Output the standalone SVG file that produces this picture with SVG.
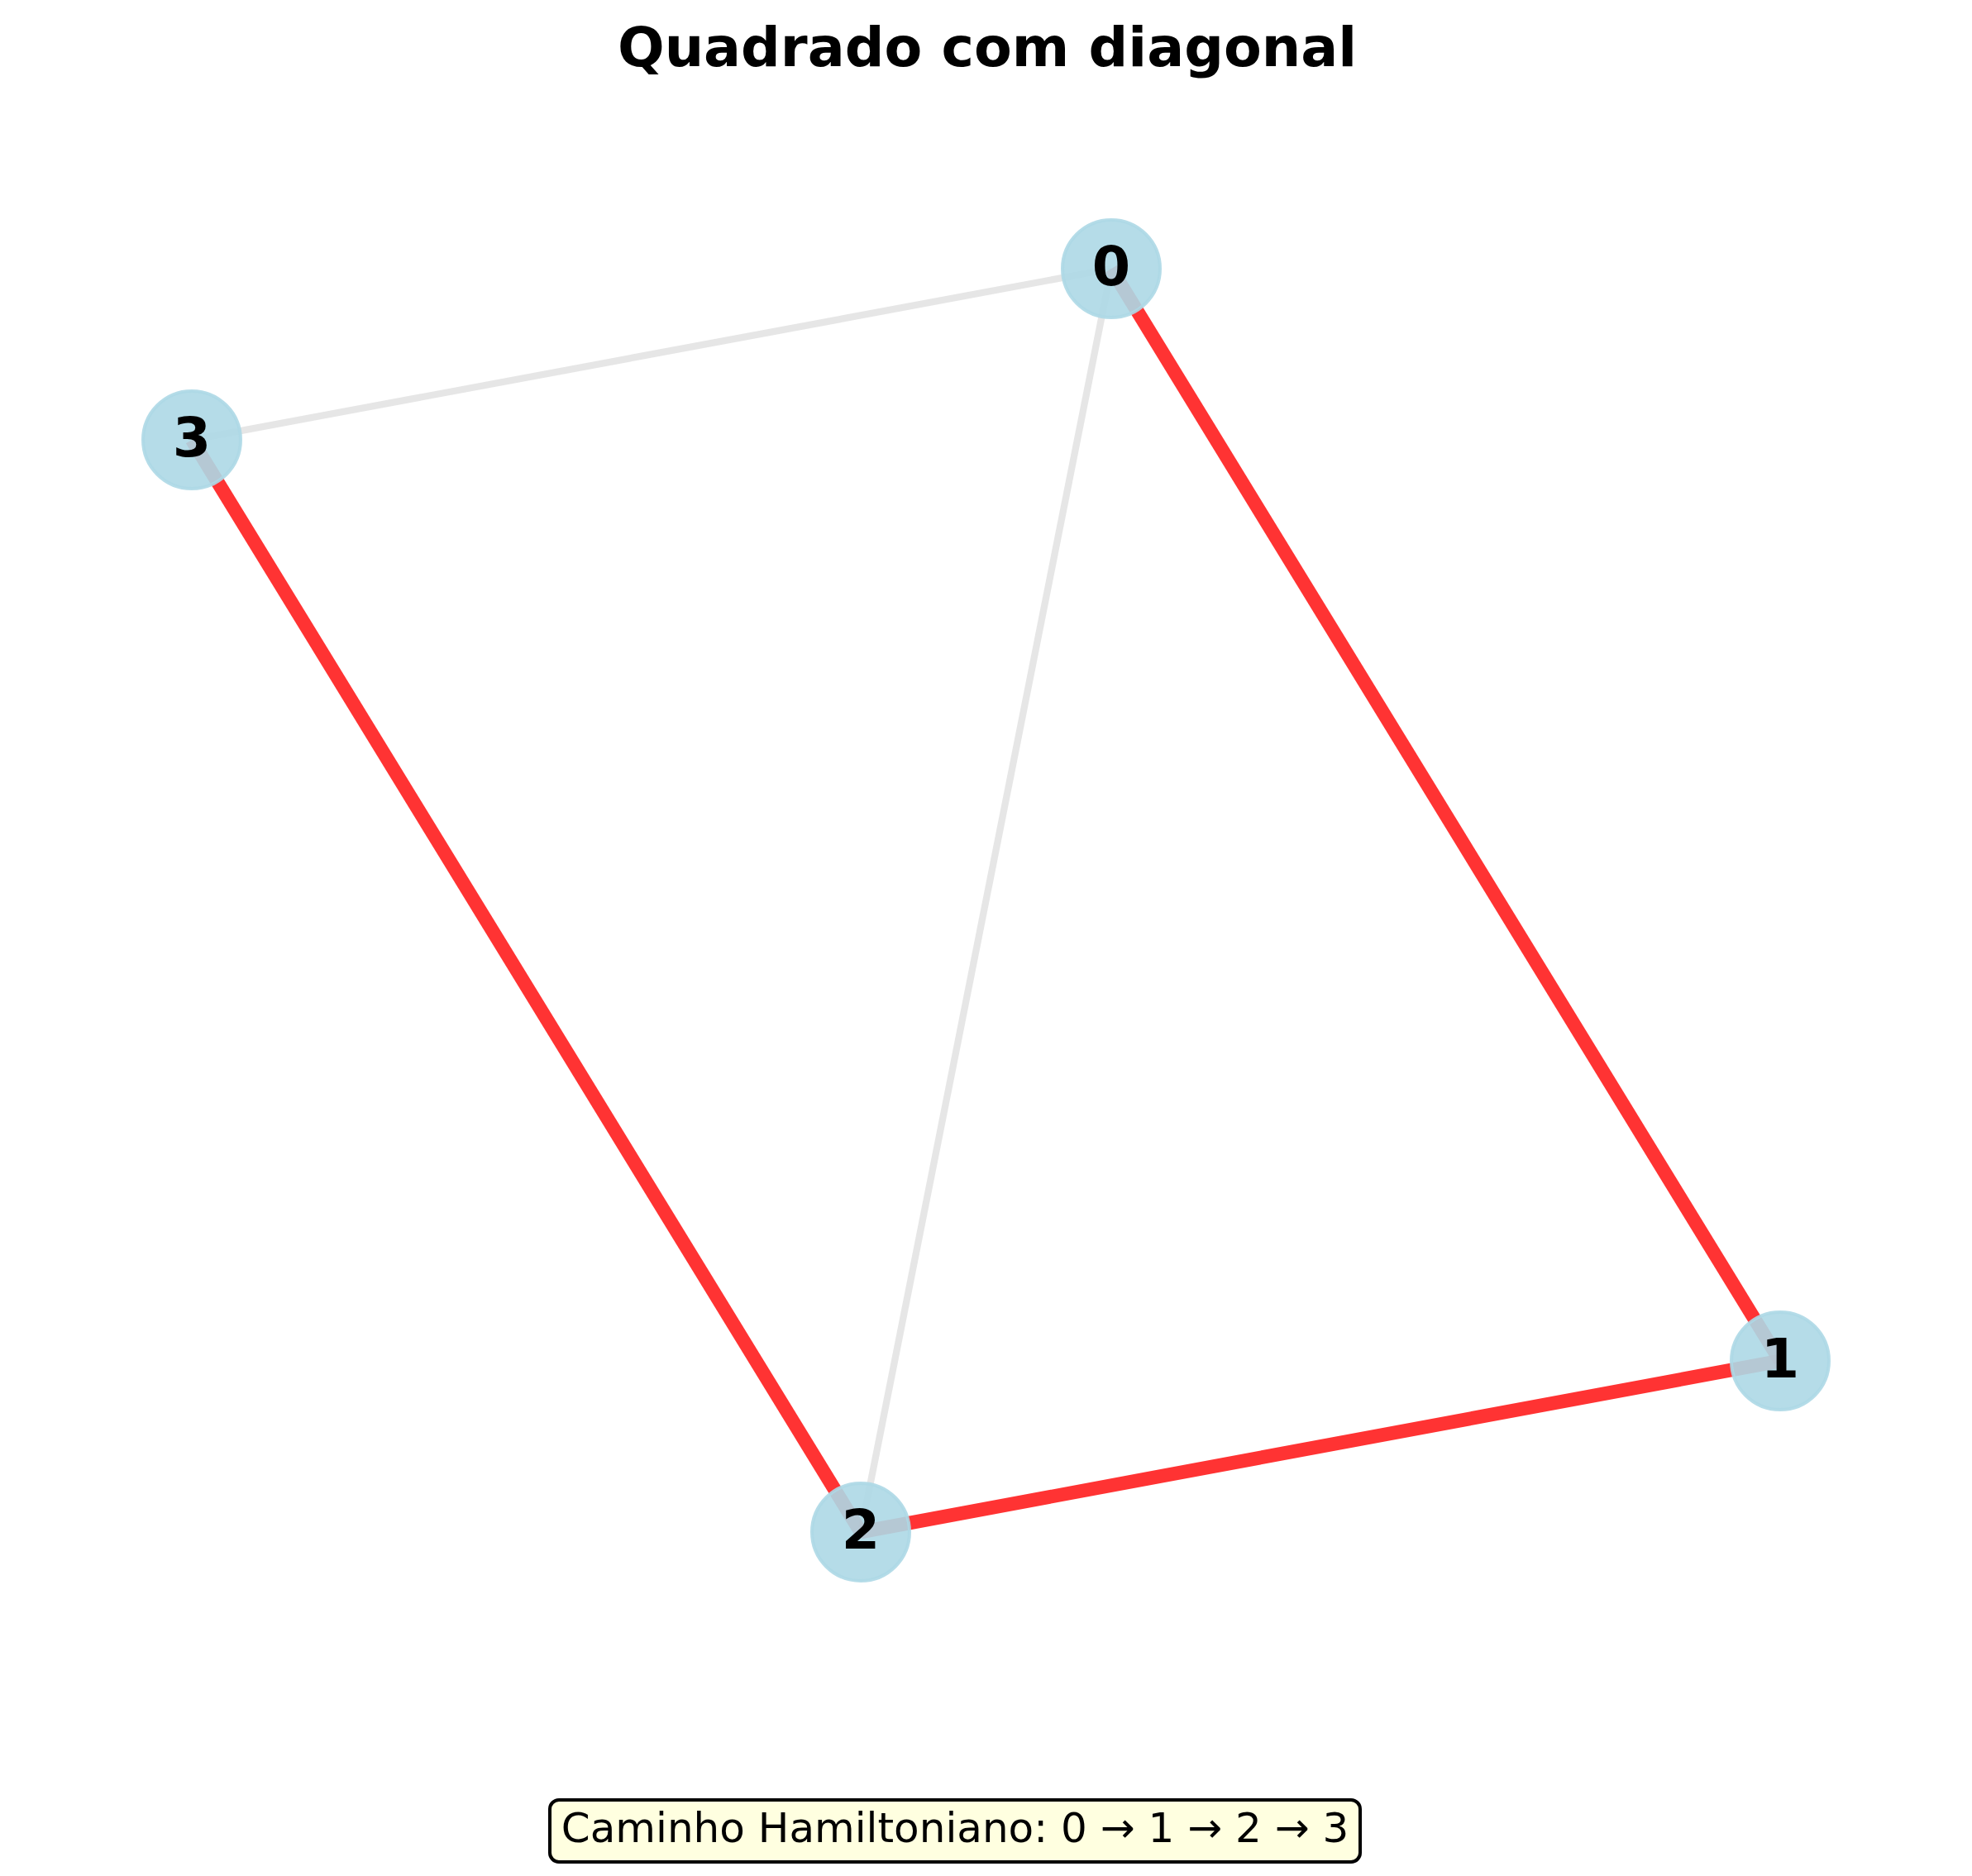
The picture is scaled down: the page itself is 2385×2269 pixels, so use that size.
<svg xmlns="http://www.w3.org/2000/svg" width="2385" height="2269" viewBox="0 0 2385 2269">
<style>
.bg{fill:#ffffff}
.e-gray{stroke:#808080;stroke-opacity:0.2;stroke-width:8.3;fill:none;stroke-linecap:butt}
.e-red{stroke:#ff0000;stroke-opacity:0.8;stroke-width:16.7;fill:none;stroke-linecap:butt}
.node circle{fill:#add8e6;fill-opacity:0.9;stroke:#add8e6;stroke-opacity:0.9;stroke-width:4}
.lbl{font-family:"DejaVu Sans","Liberation Sans",sans-serif;font-weight:bold;font-size:66.7px;fill:#000;text-anchor:middle}
.title{font-family:"DejaVu Sans","Liberation Sans",sans-serif;font-weight:bold;font-size:66.7px;fill:#000;text-anchor:middle}
.cap{font-family:"DejaVu Sans","Liberation Sans",sans-serif;font-size:50px;fill:#000;text-anchor:middle}
</style>
<rect class="bg" x="0" y="0" width="2385" height="2269"/>
<text class="title" x="1194" y="80">Quadrado com diagonal</text>
<g id="connectors">
  <line class="e-gray" x1="1344" y1="325" x2="232" y2="532"/>
  <line class="e-gray" x1="1344" y1="325" x2="1041" y2="1853"/>
  <line class="e-red" x1="1344" y1="325" x2="2153" y2="1646"/>
  <line class="e-red" x1="2153" y1="1646" x2="1041" y2="1853"/>
  <line class="e-red" x1="1041" y1="1853" x2="232" y2="532"/>
</g>
<g id="node-0" class="node"><circle cx="1344" cy="325" r="59"/><text class="lbl" x="1344" y="345">0</text></g>
<g id="node-1" class="node"><circle cx="2153" cy="1646" r="59"/><text class="lbl" x="2153" y="1666">1</text></g>
<g id="node-2" class="node"><circle cx="1041" cy="1853" r="59"/><text class="lbl" x="1041" y="1873">2</text></g>
<g id="node-3" class="node"><circle cx="232" cy="532" r="59"/><text class="lbl" x="232" y="552">3</text></g>
<g id="caption">
  <rect x="665" y="2177" width="980" height="75" rx="11" ry="11" fill="#ffffe0" stroke="#000" stroke-width="4"/>
  <text class="cap" x="1155" y="2228">Caminho Hamiltoniano: 0 → 1 → 2 → 3</text>
</g>
</svg>
